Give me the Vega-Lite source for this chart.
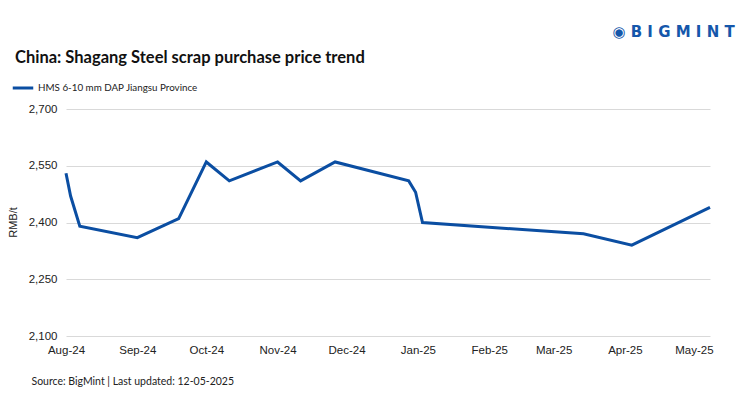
{
  "$schema": "https://vega.github.io/schema/vega-lite/v6.json",
  "autosize": {"type": "none"},
  "width": 644,
  "height": 227,
  "padding": {"left": 66, "top": 109, "right": 29, "bottom": 62},
  "background": "white",
  "title": {
    "text": "China: Shagang Steel scrap purchase price trend",
    "anchor": "start",
    "frame": "group",
    "dx": -51,
    "dy": 55,
    "offset": 0,
    "baseline": "alphabetic",
    "font": "Lato",
    "fontSize": 16.5,
    "fontWeight": "bold",
    "color": "#111111"
  },
  "data": {
    "values": [
      {"date": "2024-08-01", "value": 2530, "series": "HMS 6-10 mm DAP Jiangsu Province"},
      {"date": "2024-08-03", "value": 2470, "series": "HMS 6-10 mm DAP Jiangsu Province"},
      {"date": "2024-08-07", "value": 2390, "series": "HMS 6-10 mm DAP Jiangsu Province"},
      {"date": "2024-09-01", "value": 2360, "series": "HMS 6-10 mm DAP Jiangsu Province"},
      {"date": "2024-09-19", "value": 2410, "series": "HMS 6-10 mm DAP Jiangsu Province"},
      {"date": "2024-10-01", "value": 2560, "series": "HMS 6-10 mm DAP Jiangsu Province"},
      {"date": "2024-10-11", "value": 2510, "series": "HMS 6-10 mm DAP Jiangsu Province"},
      {"date": "2024-11-01", "value": 2560, "series": "HMS 6-10 mm DAP Jiangsu Province"},
      {"date": "2024-11-11", "value": 2510, "series": "HMS 6-10 mm DAP Jiangsu Province"},
      {"date": "2024-11-26", "value": 2560, "series": "HMS 6-10 mm DAP Jiangsu Province"},
      {"date": "2024-12-28", "value": 2510, "series": "HMS 6-10 mm DAP Jiangsu Province"},
      {"date": "2024-12-31", "value": 2480, "series": "HMS 6-10 mm DAP Jiangsu Province"},
      {"date": "2025-01-03", "value": 2400, "series": "HMS 6-10 mm DAP Jiangsu Province"},
      {"date": "2025-03-14", "value": 2370, "series": "HMS 6-10 mm DAP Jiangsu Province"},
      {"date": "2025-04-04", "value": 2340, "series": "HMS 6-10 mm DAP Jiangsu Province"},
      {"date": "2025-05-08", "value": 2440, "series": "HMS 6-10 mm DAP Jiangsu Province"}
    ],
    "format": {"parse": {"date": "date:'%Y-%m-%d'"}}
  },
  "layer": [
    {
      "mark": {"type": "line", "strokeWidth": 3, "strokeJoin": "miter", "clip": false},
      "encoding": {
        "x": {
          "field": "date",
          "type": "temporal",
          "scale": {"domain": [{"year": 2024, "month": 8, "date": 1}, {"year": 2025, "month": 5, "date": 8}]},
          "axis": {
            "format": "%b-%y",
            "tickCount": {"interval": "month", "step": 1},
            "grid": false,
            "domain": false,
            "ticks": false,
            "labelPadding": 8,
            "labelFlush": false,
            "labelOverlap": false,
            "labelFont": "Liberation Sans",
            "labelFontSize": 11.5,
            "labelColor": "#222222",
            "title": "Source: BigMint | Last updated: 12-05-2025",
            "titleX": -35,
            "titleY": 48,
            "titleAlign": "left",
            "titleBaseline": "alphabetic",
            "titleFont": "Lato",
            "titleFontSize": 10.5,
            "titleFontWeight": "normal",
            "titleColor": "#222222"
          }
        },
        "y": {
          "field": "value",
          "type": "quantitative",
          "scale": {"domain": [2100, 2700], "nice": false, "zero": false},
          "axis": {
            "values": [2100, 2250, 2400, 2550, 2700],
            "format": ",d",
            "domain": false,
            "ticks": false,
            "gridColor": "#d9d9d9",
            "gridWidth": 1,
            "labelPadding": 9,
            "labelFont": "Liberation Sans",
            "labelFontSize": 11.5,
            "labelColor": "#222222",
            "title": "RMB/t",
            "titleX": -48,
            "titleY": 113,
            "titleAngle": -90,
            "titleAlign": "center",
            "titleBaseline": "bottom",
            "titleFont": "Liberation Sans",
            "titleFontSize": 11,
            "titleFontWeight": "normal",
            "titleColor": "#222222"
          }
        },
        "color": {
          "field": "series",
          "type": "nominal",
          "scale": {"range": ["#0b4ea2"]},
          "legend": {
            "orient": "none",
            "legendX": -55,
            "legendY": -33,
            "title": null,
            "symbolType": "stroke",
            "symbolSize": 420,
            "symbolStrokeWidth": 3,
            "labelOffset": 3,
            "labelLimit": 400,
            "labelFont": "Lato",
            "labelFontSize": 9.8,
            "labelColor": "#222222"
          }
        }
      }
    },
    {
      "mark": {"type": "line", "strokeOpacity": 0},
      "encoding": {
        "x": {"field": "date", "type": "temporal"},
        "y": {
          "field": "value",
          "type": "quantitative",
          "axis": {
            "orient": "right",
            "labels": false,
            "ticks": false,
            "domain": false,
            "grid": false,
            "title": "◉ B I G M I N T",
            "titleAngle": 0,
            "titleX": -37,
            "titleY": -73,
            "titleAlign": "center",
            "titleBaseline": "alphabetic",
            "titleFont": "DejaVu Sans",
            "titleFontSize": 15,
            "titleFontWeight": "bold",
            "titleColor": "#1557ab"
          }
        }
      }
    }
  ],
  "resolve": {"axis": {"y": "independent"}},
  "config": {"view": {"stroke": null}}
}
